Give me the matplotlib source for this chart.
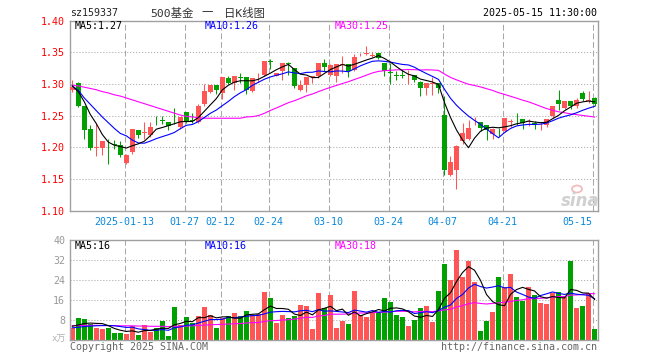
import matplotlib
matplotlib.use('Agg')
import matplotlib.pyplot as plt
from matplotlib.patches import Ellipse
import numpy as np
import pandas as pd

plt.rcParams['font.family'] = ['DejaVu Sans Mono', 'Noto Sans CJK SC']
plt.rcParams['lines.scale_dashes'] = False

# ---------------- data ----------------
opens = [1.290, 1.301, 1.2646, 1.2286, 1.199, 1.1995, 1.206, 1.205, 1.2036, 1.1755,
         1.192, 1.227, 1.2225, 1.2192, 1.2407, 1.2435, 1.2407, 1.239, 1.2317, 1.2552,
         1.2427, 1.240, 1.2677, 1.2875, 1.299, 1.286, 1.3099, 1.3015, 1.311, 1.3115,
         1.2885, 1.312, 1.3146, 1.336, 1.313, 1.3213, 1.3335, 1.325, 1.290, 1.299,
         1.311, 1.313, 1.3339, 1.3146, 1.312, 1.330, 1.3318, 1.3224, 1.3455, 1.348,
         1.345, 1.3484, 1.3339, 1.319, 1.314, 1.3135, 1.3125, 1.3146, 1.3026, 1.2932,
         1.300, 1.3016, 1.2505, 1.1557, 1.1635, 1.2104, 1.213, 1.2385, 1.2406, 1.2349,
         1.2208, 1.2273, 1.226, 1.2403, 1.2432, 1.2453, 1.240, 1.238, 1.2354, 1.2349,
         1.2495, 1.2755, 1.2625, 1.274, 1.2651, 1.2859, 1.274, 1.2781]
highs = [1.306, 1.303, 1.265, 1.235, 1.239, 1.210, 1.213, 1.211, 1.2104, 1.190,
         1.229, 1.227, 1.240, 1.240, 1.2495, 1.250, 1.2407, 1.2625, 1.2484, 1.2552,
         1.2536, 1.2687, 1.300, 1.299, 1.299, 1.3104, 1.313, 1.313, 1.317, 1.3115,
         1.310, 1.317, 1.337, 1.3396, 1.318, 1.3328, 1.3354, 1.325, 1.3068, 1.311,
         1.313, 1.3339, 1.3396, 1.331, 1.3318, 1.3443, 1.3318, 1.3474, 1.3495, 1.3599,
         1.351, 1.3495, 1.3339, 1.3339, 1.3198, 1.3224, 1.3224, 1.3146, 1.3042, 1.3016,
         1.311, 1.3016, 1.281, 1.1859, 1.2036, 1.239, 1.2432, 1.2484, 1.2406, 1.2349,
         1.2312, 1.2312, 1.2458, 1.2453, 1.2536, 1.2453, 1.2443, 1.2422, 1.240, 1.2453,
         1.2661, 1.2901, 1.274, 1.274, 1.2781, 1.2885, 1.2885, 1.2792]
lows = [1.288, 1.263, 1.213, 1.196, 1.187, 1.188, 1.174, 1.197, 1.1843, 1.174,
        1.1895, 1.2155, 1.213, 1.2156, 1.235, 1.237, 1.2276, 1.2365, 1.2296, 1.239,
        1.238, 1.239, 1.266, 1.286, 1.285, 1.277, 1.3005, 1.291, 1.3015, 1.2844,
        1.287, 1.304, 1.313, 1.323, 1.312, 1.3068, 1.3146, 1.2937, 1.2885, 1.287,
        1.3015, 1.3094, 1.3198, 1.313, 1.3026, 1.317, 1.311, 1.3198, 1.344, 1.346,
        1.342, 1.339, 1.313, 1.300, 1.3057, 1.309, 1.300, 1.3026, 1.2807, 1.2833,
        1.2833, 1.286, 1.1557, 1.1547, 1.1348, 1.2052, 1.212, 1.2349, 1.226, 1.212,
        1.214, 1.2172, 1.2245, 1.2328, 1.2349, 1.2297, 1.2338, 1.2297, 1.2276, 1.2328,
        1.2469, 1.2588, 1.2599, 1.2599, 1.2625, 1.2729, 1.2693, 1.2661]
closes = [1.296, 1.265, 1.2276, 1.199, 1.200, 1.210, 1.205, 1.203, 1.1885, 1.188,
          1.2286, 1.2198, 1.2235, 1.2328, 1.2393, 1.2415, 1.2344, 1.2385, 1.2484, 1.2416,
          1.2417, 1.265, 1.2885, 1.299, 1.2911, 1.3104, 1.3015, 1.313, 1.310, 1.291,
          1.310, 1.313, 1.337, 1.335, 1.318, 1.3328, 1.332, 1.2963, 1.299, 1.311,
          1.312, 1.3339, 1.3276, 1.330, 1.3318, 1.331, 1.3213, 1.3422, 1.3465, 1.349,
          1.346, 1.3406, 1.3198, 1.318, 1.313, 1.313, 1.313, 1.3068, 1.2932, 1.3016,
          1.3016, 1.2932, 1.1635, 1.1765, 1.2026, 1.2234, 1.2312, 1.239, 1.2312, 1.2276,
          1.2297, 1.2271, 1.2458, 1.2408, 1.2427, 1.238, 1.241, 1.2375, 1.236, 1.2453,
          1.2661, 1.2677, 1.274, 1.2651, 1.2755, 1.2766, 1.2745, 1.2677]
volumes = [4.8, 8.8, 8.5, 6.4, 4.8, 4.4, 4.8, 2.8, 2.8, 2.4,
           5.6, 2.0, 6.0, 3.2, 4.8, 7.6, 1.6, 13.2, 6.0, 9.2,
           6.8, 9.6, 13.2, 10.0, 4.8, 8.8, 9.6, 10.8, 9.6, 11.6,
           10.0, 10.4, 19.2, 16.8, 6.8, 10.0, 8.8, 9.6, 14.0, 13.6,
           4.4, 18.8, 12.8, 18.0, 4.8, 7.6, 6.4, 19.6, 10.0, 9.2,
           11.2, 11.2, 16.8, 15.2, 10.0, 9.2, 5.6, 8.0, 12.8, 13.6,
           7.2, 19.6, 30.4, 24.0, 36.0, 25.2, 31.6, 23.2, 3.6, 7.6,
           11.2, 25.2, 21.2, 26.4, 17.2, 15.6, 21.2, 18.0, 14.8, 14.4,
           18.8, 19.2, 17.2, 31.6, 12.8, 13.6, 18.8, 4.4]

# moving-average values at the start of the window (read from the picture;
# they depend on days before the first candle)
price_ma5_head = [1.297, 1.288, 1.272, 1.252]
price_ma10_head = [1.297, 1.290, 1.278, 1.268, 1.258, 1.248, 1.239, 1.230, 1.222]
price_ma30_head = [1.298, 1.297, 1.295, 1.293, 1.291, 1.288, 1.286, 1.283, 1.281, 1.278,
                   1.275, 1.272, 1.269, 1.266, 1.263, 1.260, 1.257, 1.254, 1.251, 1.249,
                   1.248, 1.247, 1.246, 1.246, 1.246, 1.246, 1.246, 1.246, 1.246]
vol_ma5_head = [5.5, 6.0, 6.6, 6.8]
vol_ma10_head = [4.9, 5.1, 5.4, 5.6, 5.7, 5.8, 5.8, 5.7, 5.4]
vol_ma30_head = [5.8, 5.8, 5.9, 5.9, 5.9, 5.8, 5.8, 5.8, 5.7, 5.7,
                 5.7, 5.6, 5.6, 5.5, 5.5, 5.5, 5.4, 5.5, 5.5, 5.6,
                 5.7, 5.8, 6.0, 6.1, 6.2, 6.3, 6.4, 6.5, 6.6]

date_tick_idx = [9, 19, 25, 33, 43, 53, 62, 72, 87]
date_tick_labels = ['2025-01-13', '01-27', '02-12', '02-24', '03-10', '03-24',
                    '04-07', '04-21', '05-15']
price_ticks = [1.10, 1.15, 1.20, 1.25, 1.30, 1.35, 1.40]
vol_ticks = [8, 16, 24, 32, 40]

title_code = 'sz159337'
title_parts = ['500基金', '一', '日K线图']
timestamp = '2025-05-15 11:30:00'
ma_price_labels = ['MA5:1.27', 'MA10:1.26', 'MA30:1.25']
ma_vol_labels = ['MA5:16', 'MA10:16', 'MA30:18']

# ---------------- helpers ----------------
def ma_with_head(values, n, head):
    s = pd.Series(values, dtype=float).rolling(n).mean().to_numpy()
    s[:len(head)] = head
    return s

W, H = 660, 360
def fx(px):
    return px / W
def fy(py):
    return 1 - py / H

RED = '#ff5555'
GREEN = '#00a000'
GRID = '#a8a8a8'
SPINE = '#a0a0a0'
BLUE_TXT = '#0a88d8'

o = np.array(opens); h = np.array(highs); l = np.array(lows); c = np.array(closes)
v = np.array(volumes)
x = np.arange(len(c))
up = c >= o
colors = np.where(up, RED, GREEN)

fig = plt.figure(figsize=(6.6, 3.6), dpi=100)
fig.patch.set_facecolor('white')

ax1 = fig.add_axes([fx(70), fy(210.7), fx(598) - fx(70), (210.7 - 20.7) / H])
ax2 = fig.add_axes([fx(70), fy(340), fx(598) - fx(70), (340 - 240.3) / H])

xlim = (-0.38, 87.57)
vline_off = -0.3

for ax in (ax1, ax2):
    ax.set_xlim(*xlim)
    for s in ax.spines.values():
        s.set_color(SPINE)
        s.set_linewidth(1.0)
    for ti in date_tick_idx:
        ax.axvline(ti + vline_off, color=GRID, lw=0.75, linestyle=(0, (4.2, 2.0)), zorder=0)
    ax.tick_params(length=0)

# ---- price panel ----
ax1.set_ylim(1.10, 1.40)
for t in price_ticks[1:-1]:
    ax1.axhline(t, color=GRID, lw=0.75, linestyle=(0, (0.75, 1.4)), zorder=0)

bw = 0.78
ax1.vlines(x, l, h, colors=colors, lw=0.75, zorder=2)
body_h = np.maximum(np.abs(c - o), 0.0007)
body_b = np.minimum(o, c)
ax1.bar(x, body_h, bottom=body_b, width=bw, color=colors, edgecolor=colors,
        linewidth=0, zorder=3)

ma5 = ma_with_head(closes, 5, price_ma5_head)
ma10 = ma_with_head(closes, 10, price_ma10_head)
ma30 = ma_with_head(closes, 30, price_ma30_head)
ax1.plot(x, ma30, color='#ff00ff', lw=0.8, zorder=4)
ax1.plot(x, ma10, color='#0000ff', lw=0.8, zorder=4)
ax1.plot(x, ma5, color='#000000', lw=0.8, zorder=4)

ax1.set_yticks(price_ticks)
ax1.set_yticklabels([f'{t:.2f}' for t in price_ticks], color='#ff0000', fontsize=7.2)
ax1.tick_params(axis='y', pad=3.5)
ax1.set_xticks([ti + vline_off for ti in date_tick_idx])
ax1.set_xticklabels(date_tick_labels, color=BLUE_TXT, fontsize=7.2)
ax1.tick_params(axis='x', pad=4.5)
lbls = ax1.get_xticklabels()
lbls[-1].set_horizontalalignment('right')

ma_cols = ['#000000', '#0000ff', '#ff00ff']
ma_x = [75, 205, 335]
for txt, col, px in zip(ma_price_labels, ma_cols, ma_x):
    fig.text(fx(px), fy(26), txt, color=col, fontsize=7.2, ha='left', va='center')

# ---- volume panel ----
ax2.set_ylim(0, 40)
for t in vol_ticks[:-1]:
    ax2.axhline(t, color=GRID, lw=0.75, linestyle=(0, (0.75, 1.4)), zorder=0)
ax2.bar(x, v, width=bw, color=colors, linewidth=0, zorder=2)
vma5 = ma_with_head(volumes, 5, vol_ma5_head)
vma10 = ma_with_head(volumes, 10, vol_ma10_head)
vma30 = ma_with_head(volumes, 30, vol_ma30_head)
ax2.plot(x, vma30, color='#ff00ff', lw=0.8, zorder=4)
ax2.plot(x, vma10, color='#0000ff', lw=0.8, zorder=4)
ax2.plot(x, vma5, color='#000000', lw=0.8, zorder=4)
ax2.set_yticks(vol_ticks)
ax2.set_yticklabels([str(t) for t in vol_ticks], color='#999999', fontsize=7.2)
ax2.tick_params(axis='y', pad=3.5)
ax2.set_xticks([])
for txt, col, px in zip(ma_vol_labels, ma_cols, ma_x):
    fig.text(fx(px), fy(246), txt, color=col, fontsize=7.2, ha='left', va='center')
fig.text(fx(66), fy(339), 'x万', color='#b0b0b0', fontsize=6.5, ha='right', va='center')

# ---- header / footer ----
fig.text(fx(70), fy(13), title_code, color='#222222', fontsize=7.2, ha='left', va='center')
for part, px in zip(title_parts, [150, 202, 224]):
    fig.text(fx(px), fy(13), part, color='#333333', fontsize=8.2, ha='left', va='center')
fig.text(fx(597), fy(13), timestamp, color='#000000', fontsize=7.2, ha='right', va='center')
fig.text(fx(70), fy(346.5), 'Copyright 2025 SINA.COM', color='#666666', fontsize=7.2,
         ha='left', va='center')
fig.text(fx(597), fy(346.5), 'http://finance.sina.com.cn', color='#666666', fontsize=7.2,
         ha='right', va='center')

# sina watermark
fig.text(fx(580), fy(201), 'sina', color='#d0d0d0', fontsize=12, fontweight='bold',
         style='italic', family='DejaVu Sans', ha='center', va='center', zorder=1)
fig.patches.append(Ellipse((fx(577), fy(189)), 10 / W, 7 / H, transform=fig.transFigure,
                           facecolor='none', edgecolor='#f0b8b8', lw=1.2))

fig.savefig('out.png', dpi=100)
